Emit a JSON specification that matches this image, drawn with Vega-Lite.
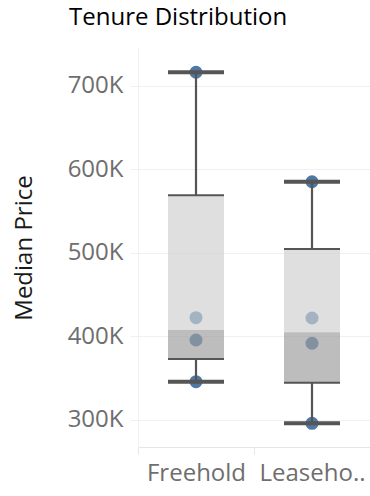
{
  "$schema": "https://vega.github.io/schema/vega-lite/v6.json",
  "width": 232,
  "height": 399,
  "autosize": "none",
  "padding": {"left": 138, "top": 48, "right": 0, "bottom": 49},
  "background": "white",
  "title": {"text": "Tenure Distribution", "anchor": "start", "frame": "group", "dx": -69, "offset": 18, "fontSize": 24, "font": "Open Sans", "fontWeight": 500, "color": "#000000"},
  "config": {"view": {"stroke": null}, "font": "Open Sans"},
  "datasets": {
    "points": [
      {"tenure": "Freehold", "price": 716000},
      {"tenure": "Freehold", "price": 422400},
      {"tenure": "Freehold", "price": 395700},
      {"tenure": "Freehold", "price": 345800},
      {"tenure": "Leasehold", "price": 585000},
      {"tenure": "Leasehold", "price": 422000},
      {"tenure": "Leasehold", "price": 391800},
      {"tenure": "Leasehold", "price": 296000}
    ],
    "stats": [
      {"tenure": "Freehold", "lower": 345800, "q1": 373000, "median": 407700, "q3": 569000, "upper": 716000},
      {"tenure": "Leasehold", "lower": 296000, "q1": 344600, "median": 405000, "q3": 504600, "upper": 585000}
    ]
  },
  "encoding": {
    "x": {"field": "tenure", "type": "nominal", "scale": {"domain": ["Freehold", "Leasehold"], "paddingInner": 0, "paddingOuter": 0},
      "axis": {"title": null, "labelAngle": 0, "labelExpr": "datum.label == 'Leasehold' ? 'Leaseho..' : datum.label", "labelFontSize": 24, "labelColor": "#6e6e6e", "labelFont": "Open Sans", "tickBand": "extent", "tickSize": 7, "tickColor": "#e6e6e6", "domainColor": "#e6e6e6", "labelPadding": 7, "grid": false}}
  },
  "layer": [
    {
      "data": {"name": "points"},
      "mark": {"type": "circle", "size": 170, "color": "#4e79a7", "opacity": 1},
      "encoding": {
        "y": {"field": "price", "type": "quantitative", "scale": {"domain": [267700, 745000], "nice": false, "zero": false},
          "axis": {"title": "Median Price", "values": [300000, 400000, 500000, 600000, 700000], "labelExpr": "format(datum.value/1000,'d')+'K'", "labelFontSize": 24, "labelColor": "#6e6e6e", "labelFont": "Open Sans", "titleFont": "Open Sans", "titleFontSize": 24, "titleFontWeight": "normal", "titleColor": "#1a1a1a", "titlePadding": 31, "tickSize": 8, "tickColor": "#f0f0f0", "domainColor": "#f0f0f0", "gridColor": "#f0f0f0", "grid": true, "labelPadding": 7}}
      }
    },
    {
      "data": {"name": "stats"},
      "mark": {"type": "bar", "size": 56, "color": "#d0d0d0", "opacity": 0.67},
      "encoding": {"y": {"field": "median", "type": "quantitative"}, "y2": {"field": "q3"}}
    },
    {
      "data": {"name": "stats"},
      "mark": {"type": "bar", "size": 56, "color": "#9c9c9c", "opacity": 0.67},
      "encoding": {"y": {"field": "q1", "type": "quantitative"}, "y2": {"field": "median"}}
    },
    {
      "data": {"name": "stats"},
      "mark": {"type": "rule", "color": "#555555", "strokeWidth": 2.2},
      "encoding": {"y": {"field": "q3", "type": "quantitative"}, "y2": {"field": "upper"}}
    },
    {
      "data": {"name": "stats"},
      "mark": {"type": "rule", "color": "#555555", "strokeWidth": 2.2},
      "encoding": {"y": {"field": "lower", "type": "quantitative"}, "y2": {"field": "q1"}}
    },
    {
      "data": {"name": "stats"},
      "mark": {"type": "tick", "orient": "horizontal", "size": 56, "thickness": 2, "color": "#555555", "opacity": 1},
      "encoding": {"y": {"field": "q3", "type": "quantitative"}}
    },
    {
      "data": {"name": "stats"},
      "mark": {"type": "tick", "orient": "horizontal", "size": 56, "thickness": 2, "color": "#555555", "opacity": 1},
      "encoding": {"y": {"field": "q1", "type": "quantitative"}}
    },
    {
      "data": {"name": "stats"},
      "mark": {"type": "tick", "orient": "horizontal", "size": 56, "thickness": 4, "color": "#555555", "opacity": 1},
      "encoding": {"y": {"field": "upper", "type": "quantitative"}}
    },
    {
      "data": {"name": "stats"},
      "mark": {"type": "tick", "orient": "horizontal", "size": 56, "thickness": 4, "color": "#555555", "opacity": 1},
      "encoding": {"y": {"field": "lower", "type": "quantitative"}}
    }
  ]
}
